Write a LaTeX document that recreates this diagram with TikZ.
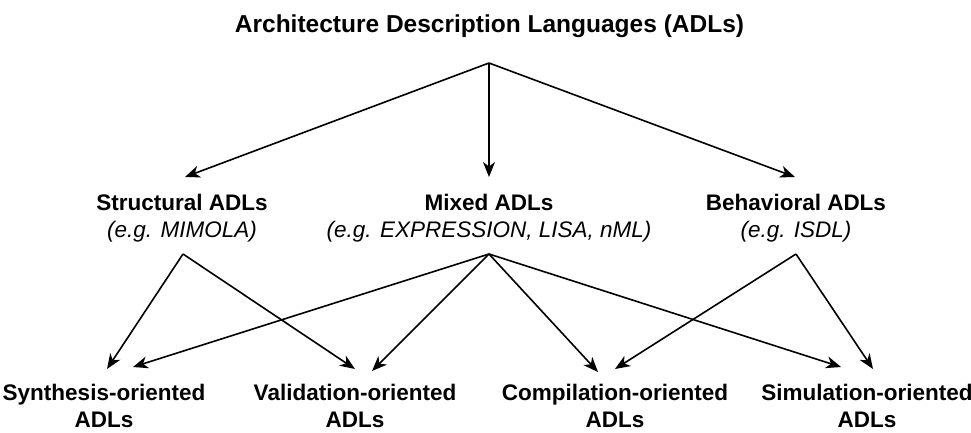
\documentclass[tikz,border=0pt]{standalone}
\usepackage{fontspec}
\setmainfont{Liberation Sans}
\usetikzlibrary{arrows.meta}
\tikzset{
  lbl/.style={inner sep=0pt, outer sep=0pt, align=center, anchor=base, font=\fontsize{22.5}{27}\selectfont\bfseries},
  ttl/.style={inner sep=0pt, outer sep=0pt, anchor=base, font=\fontsize{24.5}{29}\selectfont\bfseries},
  conn/.style={line width=1.6pt, -{Stealth[length=15pt, width=12pt, inset=4.5pt]}}
}
\begin{document}
\begin{tikzpicture}[x=1pt, y=-1pt]
\useasboundingbox (0,0) rectangle (971,432);
% text nodes (base anchor = baseline of last line)
\node[ttl] (title) at (489.5,32) {Architecture Description Languages (ADLs)};
\node[lbl] (struct) at (182,237) {Structural ADLs\\{\mdseries\itshape (e.g. MIMOLA)}};
\node[lbl] (mixed) at (489,237) {Mixed ADLs\\{\mdseries\itshape (e.g. EXPRESSION, LISA, nML)}};
\node[lbl] (behav) at (796,237) {Behavioral ADLs\\{\mdseries\itshape (e.g. ISDL)}};
\node[lbl] (synth) at (104,427) {Synthesis-oriented\\ADLs};
\node[lbl] (valid) at (355,427) {Validation-oriented\\ADLs};
\node[lbl] (comp) at (615,427) {Compilation-oriented\\ADLs};
\node[lbl] (sim) at (867,427) {Simulation-oriented\\ADLs};
% connector end points
\coordinate (tapex) at (489,63);
\coordinate (sapex) at (183,254);
\coordinate (mapex) at (489,254);
\coordinate (bapex) at (796,254);
\coordinate (sin) at (185,177);
\coordinate (min) at (489,177);
\coordinate (bin) at (795,177);
\coordinate (synthA) at (107,369);
\coordinate (synthB) at (133,367);
\coordinate (validA) at (355,369);
\coordinate (validB) at (372,371);
\coordinate (compA) at (598,372);
\coordinate (compB) at (615,369);
\coordinate (simA) at (841,367);
\coordinate (simB) at (873,369);
% connectors
\draw[conn] (tapex) -- (sin);
\draw[conn] (tapex) -- (min);
\draw[conn] (tapex) -- (bin);
\draw[conn] (sapex) -- (synthA);
\draw[conn] (sapex) -- (validA);
\draw[conn] (mapex) -- (synthB);
\draw[conn] (mapex) -- (validB);
\draw[conn] (mapex) -- (compA);
\draw[conn] (mapex) -- (simA);
\draw[conn] (bapex) -- (compB);
\draw[conn] (bapex) -- (simB);
\end{tikzpicture}
\end{document}
